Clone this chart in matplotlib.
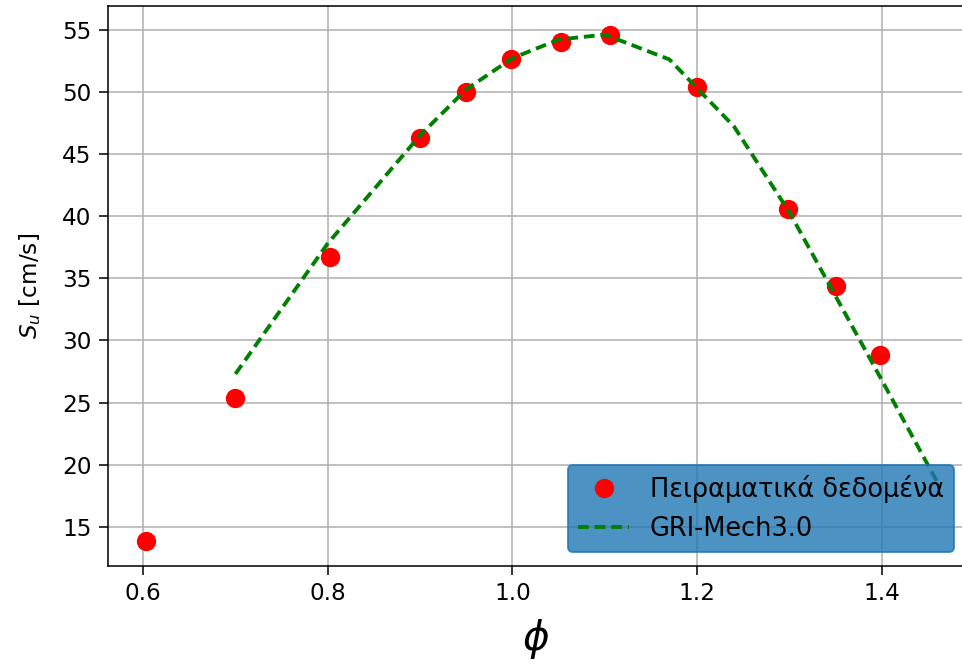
import matplotlib
matplotlib.use("Agg")
import matplotlib.pyplot as plt

# experimental laminar flame speed
phi_exp = [0.603, 0.7, 0.802, 0.9, 0.95, 0.998, 1.053, 1.106, 1.2, 1.298, 1.35, 1.398]
su_exp = [13.9, 25.4, 36.7, 46.3, 50.0, 52.6, 54.0, 54.6, 50.4, 40.6, 34.4, 28.8]

# GRI-Mech3.0 simulation
phi_gri = [0.7, 0.8, 0.9, 0.95, 1.0, 1.05, 1.1, 1.17, 1.24, 1.3, 1.4, 1.46]
su_gri = [27.3, 37.8, 46.5, 50.2, 52.7, 54.2, 54.6, 52.6, 47.2, 40.3, 26.8, 18.6]

dpi = 139
fig = plt.figure(figsize=(963 / dpi, 668 / dpi), dpi=dpi)
ax = fig.add_axes([108 / 963, 102 / 668, 856 / 963, 560 / 668])

ax.plot(phi_exp, su_exp, "o", color="red", markersize=9, label="Πειραματικά δεδομένα")
ax.plot(phi_gri, su_gri, "--", color="green", linewidth=2, dashes=(2.8, 1.5),
        label="GRI-Mech3.0")

ax.set_xlim(0.562, 1.489)
ax.set_ylim(11.85, 56.9)
ax.set_xticks([0.6, 0.8, 1.0, 1.2, 1.4])
ax.set_yticks([15, 20, 25, 30, 35, 40, 45, 50, 55])
ax.tick_params(labelsize=12, length=4.5, pad=4)
ax.grid(True)

ax.set_xlabel(r"$\phi$", fontsize=21, labelpad=6)
ax.set_ylabel(r"$S_u$ [cm/s]", fontsize=12, labelpad=10)

leg = ax.legend(loc="lower left", bbox_to_anchor=(0.537, 0.025), borderaxespad=0,
                fontsize=13.3, facecolor="tab:blue", edgecolor="tab:blue",
                framealpha=0.8)

fig.savefig("out.png", dpi=dpi)
